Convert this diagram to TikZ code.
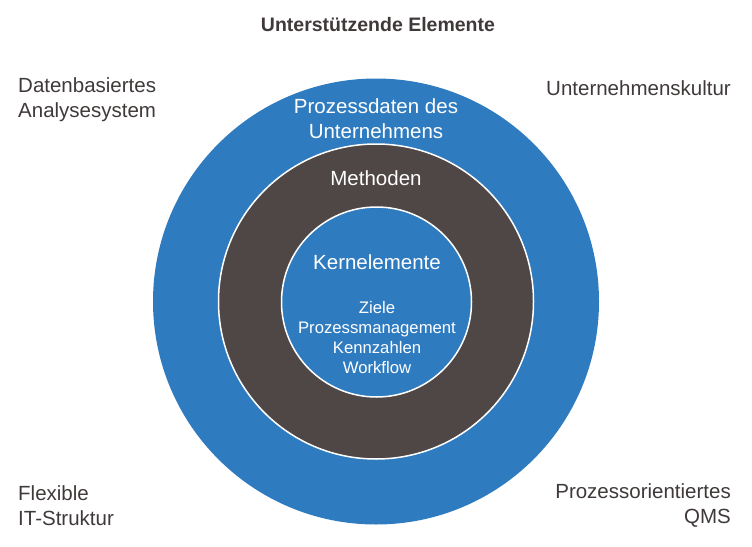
\documentclass[tikz,border=0pt]{standalone}
\usepackage{fontspec}
\setmainfont{Liberation Sans}
\usepackage{xcolor}
\usepackage{tikz}
\usetikzlibrary{positioning}

\definecolor{ringblue}{HTML}{2F7BBF}
\definecolor{ringdark}{HTML}{4F4746}
\definecolor{labelgrey}{HTML}{403939}

\begin{document}
\begin{tikzpicture}[
    x=1pt, y=-1pt,
    ring/.style={circle, inner sep=0pt},
    inring/.style={font=\fontsize{20.5}{24.6}\selectfont, text=white, align=center, inner sep=0pt},
    listing/.style={font=\fontsize{16.7}{20}\selectfont, text=white, align=center, inner sep=0pt},
    side/.style={font=\fontsize{20.5}{25}\selectfont, text=labelgrey, inner sep=0pt},
]
    \useasboundingbox (0,0) rectangle (752,546);

    % Rings
    \node[ring, fill=ringblue, minimum size=446pt] (outer) at (376,301.5) {};
    \node[ring, fill=ringdark, draw=white, line width=1.5pt, minimum size=315pt] (middle) at (376,301.5) {};
    \node[ring, fill=ringblue, draw=white, line width=1.5pt, minimum size=190pt] (core) at (376.5,302) {};

    % Ring labels
    \node[inring] (daten) at (376,118.5) {Prozessdaten des\\Unternehmens};
    \node[inring] (methoden) at (376,178) {Methoden};
    \node[inring] (kern) at (377,262) {Kernelemente};
    \node[listing] (liste) at (377,338) {Ziele\\Prozessmanagement\\Kennzahlen\\Workflow};

    % Supporting elements
    \node[font=\fontsize{19.5}{23}\selectfont\bfseries, text=labelgrey, inner sep=0pt] (title) at (378,25) {Unterstützende Elemente};
    \node[side, anchor=west, align=left] (analyse) at (18,99.5) {Datenbasiertes\\Analysesystem};
    \node[side, anchor=east] (kultur) at (731,88) {Unternehmenskultur};
    \node[side, anchor=west, align=left] (it) at (18,505.5) {Flexible\\IT-Struktur};
    \node[side, anchor=east, align=right] (qms) at (731,505.5) {Prozessorientiertes\\QMS};
\end{tikzpicture}
\end{document}
